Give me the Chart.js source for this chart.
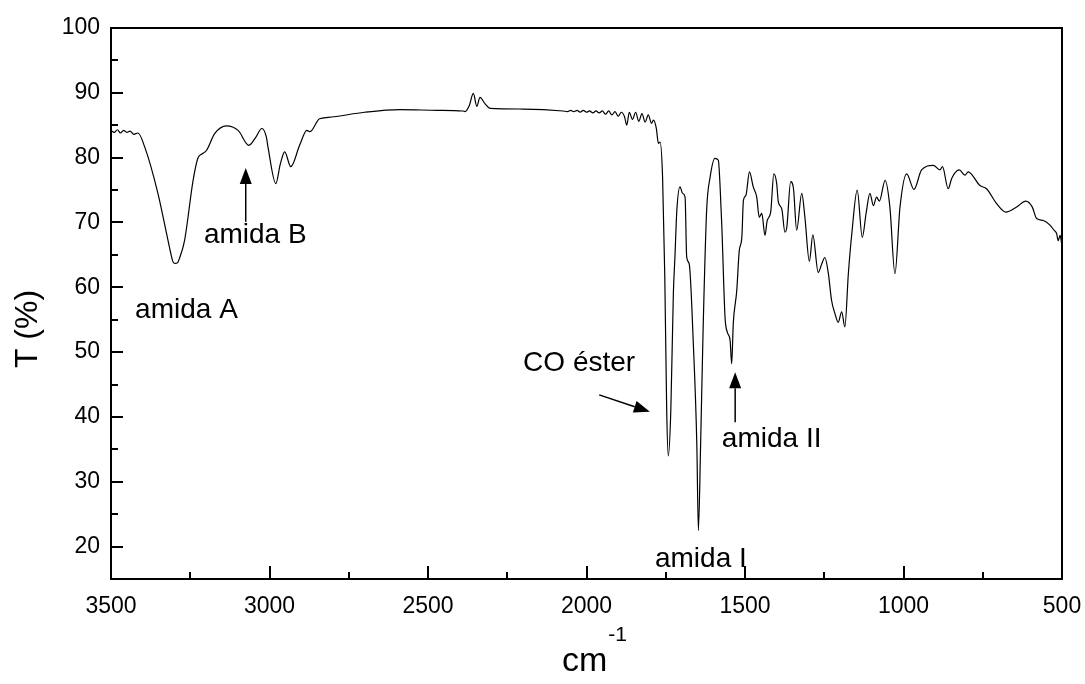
<!DOCTYPE html>
<html>
<head>
<meta charset="utf-8">
<script src="https://cdn.jsdelivr.net/npm/chart.js@4.4.1/dist/chart.umd.min.js"></script>
<style>
  html, body { margin: 0; padding: 0; background: #fff; }
</style>
</head>
<body>
<canvas id="chart" width="1085" height="684"></canvas>
<script>
(function() {

    // IR spectrum (wavenumber in cm-1, transmittance in %)
    var wavenumbers = [
        3500, 3490, 3480, 3470, 3460, 3450, 3440, 3428, 3415, 3394,
        3352, 3320, 3305, 3299, 3290, 3283, 3268, 3241, 3226, 3212,
        3199, 3173, 3136, 3099, 3065, 3045, 3024, 3010, 3005, 2980,
        2966, 2952, 2933, 2905, 2882, 2873, 2842, 2815, 2700, 2588,
        2470, 2390, 2383, 2370, 2357, 2346, 2336, 2320, 2304, 2200,
        2074, 2060, 2050, 2040, 2030, 2020, 2010, 2000, 1990, 1980,
        1970, 1960, 1950, 1940, 1930, 1920, 1910, 1900, 1890, 1880,
        1873, 1865, 1855, 1845, 1835, 1825, 1815, 1805, 1795, 1789,
        1780, 1773, 1768, 1760, 1753, 1747, 1742, 1734, 1726, 1721,
        1715, 1705, 1697, 1689, 1684, 1676, 1663, 1652, 1647, 1640,
        1632, 1621, 1610, 1595, 1584, 1579, 1573, 1563, 1556, 1547,
        1542, 1537, 1526, 1518, 1510, 1505, 1497, 1486, 1474, 1463,
        1455, 1447, 1437, 1430, 1419, 1409, 1400, 1395, 1384, 1374,
        1368, 1356, 1347, 1337, 1321, 1311, 1297, 1286, 1269, 1258,
        1248, 1237, 1227, 1216, 1206, 1195, 1185, 1174, 1163, 1146,
        1130, 1118, 1106, 1095, 1085, 1076, 1058, 1043, 1027, 1011,
        990, 967, 943, 906, 885, 877, 859, 848, 824, 806,
        796, 759, 738, 706, 677, 643, 614, 594, 580, 559,
        538, 525, 517, 512, 506, 501
    ];
    var transmittance = [
        84.2, 83.9, 84.3, 83.8, 84.2, 83.9, 84.1, 83.6, 83.8, 81.7,
        74.5, 67.2, 64.0, 63.7, 63.8, 64.6, 67.2, 76.5, 79.9, 80.6,
        81.1, 83.7, 84.9, 84.2, 81.9, 83.0, 84.5, 83.2, 81.7, 76.0,
        79.0, 80.9, 78.6, 81.9, 84.2, 84.0, 86.0, 86.2, 87.0, 87.4,
        87.3, 87.2, 87.1, 88.0, 89.9, 87.9, 89.3, 88.3, 87.6, 87.5,
        87.2, 87.1, 87.3, 87.1, 87.3, 87.0, 87.3, 87.0, 87.2, 86.9,
        87.2, 86.9, 87.2, 86.7, 87.2, 86.6, 87.1, 86.4, 87.0, 86.3,
        85.0, 87.0, 85.9, 87.0, 85.6, 86.8, 85.5, 86.6, 85.3, 85.8,
        84.6, 82.2, 82.4, 77.0, 61.6, 41.0, 34.0, 41.0, 59.0, 64.7,
        71.9, 75.5, 74.5, 73.9, 64.7, 63.6, 51.3, 35.8, 22.5, 35.8,
        53.8, 71.9, 77.0, 79.9, 79.6, 76.0, 69.3, 55.4, 53.1, 51.8,
        48.2, 54.4, 59.5, 65.7, 67.7, 73.4, 74.2, 77.8, 75.5, 73.9,
        70.8, 71.4, 68.0, 70.3, 71.6, 77.5, 76.0, 73.2, 72.1, 68.5,
        69.3, 76.3, 75.2, 68.8, 74.5, 70.8, 64.0, 68.1, 62.3, 63.6,
        64.6, 62.1, 58.0, 55.9, 54.6, 56.2, 53.9, 62.1, 68.3, 75.0,
        67.7, 71.4, 74.5, 72.6, 73.9, 73.3, 76.5, 72.4, 62.1, 72.4,
        77.5, 75.1, 78.1, 78.8, 78.1, 78.6, 75.2, 76.8, 78.1, 77.3,
        77.8, 75.7, 75.2, 72.9, 71.6, 72.4, 73.3, 72.4, 70.6, 70.3,
        69.6, 68.8, 68.3, 67.2, 68.0, 66.7
    ];

    var xTicks = [3500, 3000, 2500, 2000, 1500, 1000, 500];
    var yTicks = [20, 30, 40, 50, 60, 70, 80, 90, 100];

    // band labels and arrows, in data units
    var notes = [
        { text: 'amida A', x: 3424, y: 55.2 },
        { text: 'amida B', x: 3207, y: 66.8 },
        { text: 'CO éster', x: 2200, y: 47.1 },
        { text: 'amida II', x: 1573, y: 35.3 },
        { text: 'amida I', x: 1784, y: 16.8 }
    ];
    var arrows = [
        { from: [3075, 70.1], to: [3075, 78.4] },
        { from: [1960, 43.4], to: [1800, 40.8] },
        { from: [1531, 39.2], to: [1531, 46.9] }
    ];

    var FONT = '"Liberation Sans", Arial, sans-serif';

    var points = wavenumbers.map(function(w, i) {
        return { x: w, y: transmittance[i] };
    });

    var frame = {
        id: 'frame',
        afterDraw: function(chart) {
            var ctx = chart.ctx;
            var a = chart.chartArea;
            var xs = chart.scales.x;
            var ys = chart.scales.y;

            ctx.save();
            ctx.strokeStyle = '#000';
            ctx.fillStyle = '#000';
            ctx.lineWidth = 2;
            ctx.strokeRect(a.left, a.top, a.right - a.left, a.bottom - a.top);

            // inward ticks
            ctx.beginPath();
            xs.ticks.forEach(function(t) {
                var px = Math.round(xs.getPixelForValue(t.value));
                var len = xTicks.indexOf(t.value) >= 0 ? 13 : 7;
                ctx.moveTo(px, a.bottom);
                ctx.lineTo(px, a.bottom - len);
            });
            ys.ticks.forEach(function(t) {
                var py = Math.round(ys.getPixelForValue(t.value));
                var len = yTicks.indexOf(t.value) >= 0 ? 12 : 7;
                ctx.moveTo(a.left, py);
                ctx.lineTo(a.left + len, py);
            });
            ctx.stroke();

            // axis titles
            ctx.textAlign = 'center';
            ctx.textBaseline = 'alphabetic';
            ctx.save();
            ctx.translate(37, 329);
            ctx.rotate(-Math.PI / 2);
            ctx.font = '32px ' + FONT;
            ctx.fillText('T (%)', 0, 0);
            ctx.restore();

            ctx.textAlign = 'left';
            ctx.font = '34px ' + FONT;
            ctx.fillText('cm', 562, 671);
            var cw = ctx.measureText('cm').width;
            ctx.font = '21px ' + FONT;
            ctx.fillText('-1', 562 + cw + 1, 641);

            // band labels
            ctx.font = '28px ' + FONT;
            notes.forEach(function(n) {
                ctx.fillText(n.text, xs.getPixelForValue(n.x), ys.getPixelForValue(n.y));
            });

            // arrows
            ctx.lineWidth = 1.5;
            arrows.forEach(function(ar) {
                var x0 = xs.getPixelForValue(ar.from[0]);
                var y0 = ys.getPixelForValue(ar.from[1]);
                var x1 = xs.getPixelForValue(ar.to[0]);
                var y1 = ys.getPixelForValue(ar.to[1]);
                var ang = Math.atan2(y1 - y0, x1 - x0);
                var hl = 16, hw = 6;
                var bx = x1 - hl * Math.cos(ang);
                var by = y1 - hl * Math.sin(ang);
                ctx.beginPath();
                ctx.moveTo(x0, y0);
                ctx.lineTo(bx, by);
                ctx.stroke();
                ctx.beginPath();
                ctx.moveTo(x1, y1);
                ctx.lineTo(bx + hw * Math.sin(ang), by - hw * Math.cos(ang));
                ctx.lineTo(bx - hw * Math.sin(ang), by + hw * Math.cos(ang));
                ctx.closePath();
                ctx.fill();
            });
            ctx.restore();
        }
    };

    var ctx = document.getElementById('chart').getContext('2d');

    var chart = new Chart(ctx, {
        type: 'line',
        data: {
            datasets: [{
                data: points,
                borderColor: '#000',
                borderWidth: 1.2,
                pointRadius: 0,
                fill: false,
                cubicInterpolationMode: 'monotone'
            }]
        },
        options: {
            responsive: false,
            animation: false,
            devicePixelRatio: 1,
            layout: { padding: { top: 28, right: 23, left: 0, bottom: 0 } },
            plugins: {
                legend: { display: false },
                tooltip: { enabled: false }
            },
            scales: {
                x: {
                    type: 'linear',
                    min: 500,
                    max: 3500,
                    reverse: true,
                    afterFit: function(s) {
                        s.height = 105;
                        s.paddingLeft = 0;
                        s.paddingRight = 0;
                    },
                    grid: { display: false, drawTicks: false },
                    border: { display: false },
                    ticks: {
                        stepSize: 250,
                        autoSkip: false,
                        maxRotation: 0,
                        padding: 14,
                        color: '#000',
                        font: { family: FONT, size: 23 },
                        callback: function(v) { return xTicks.indexOf(v) >= 0 ? String(v) : ''; }
                    }
                },
                y: {
                    min: 15,
                    max: 100,
                    afterFit: function(s) {
                        s.width = 111;
                        s.paddingTop = 0;
                        s.paddingBottom = 0;
                    },
                    grid: { display: false, drawTicks: false },
                    border: { display: false },
                    ticks: {
                        stepSize: 5,
                        autoSkip: false,
                        padding: 11,
                        color: '#000',
                        font: { family: FONT, size: 23 },
                        callback: function(v) { return yTicks.indexOf(v) >= 0 ? String(v) : ''; }
                    }
                }
            }
        },
        plugins: [frame]
    });
})();
</script>
</body>
</html>
